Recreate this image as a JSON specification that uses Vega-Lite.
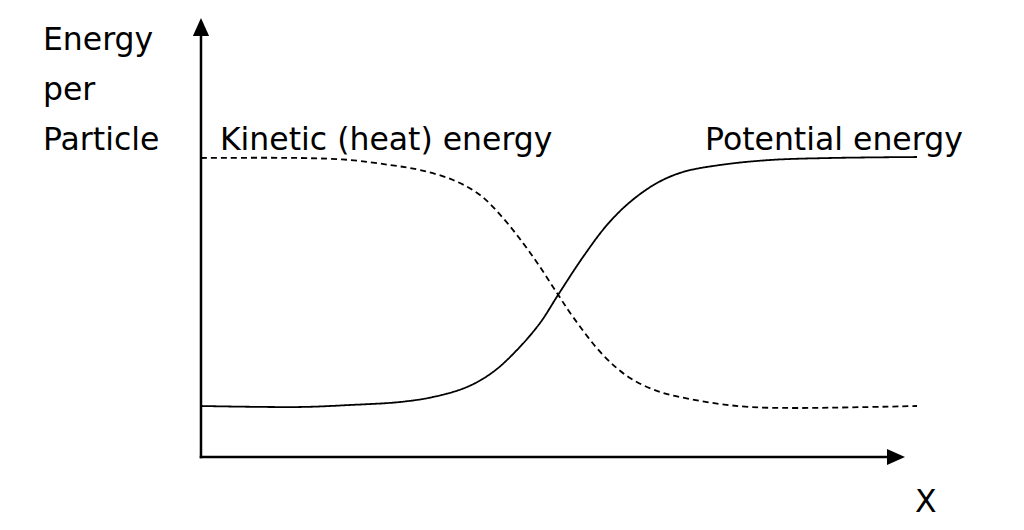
{
  "$schema": "https://vega.github.io/schema/vega-lite/v6.json",
  "width": 1024,
  "height": 530,
  "padding": 0,
  "autosize": {"type": "fit", "contains": "padding"},
  "background": "white",
  "config": {"view": {"stroke": null}},
  "datasets": {
    "curves": [
      {"series": "Potential", "x": 0, "y": 1.02},
      {"series": "Potential", "x": 1.383, "y": 1.0},
      {"series": "Potential", "x": 2.081, "y": 1.04},
      {"series": "Potential", "x": 2.779, "y": 1.10},
      {"series": "Potential", "x": 3.240, "y": 1.20},
      {"series": "Potential", "x": 3.715, "y": 1.40},
      {"series": "Potential", "x": 4.078, "y": 1.70},
      {"series": "Potential", "x": 4.413, "y": 2.14},
      {"series": "Potential", "x": 4.735, "y": 2.68},
      {"series": "Potential", "x": 4.986, "y": 3.24},
      {"series": "Potential", "x": 5.335, "y": 4.00},
      {"series": "Potential", "x": 5.670, "y": 4.64},
      {"series": "Potential", "x": 5.992, "y": 5.10},
      {"series": "Potential", "x": 6.369, "y": 5.48},
      {"series": "Potential", "x": 6.732, "y": 5.70},
      {"series": "Potential", "x": 7.249, "y": 5.84},
      {"series": "Potential", "x": 7.947, "y": 5.94},
      {"series": "Potential", "x": 8.785, "y": 5.98},
      {"series": "Potential", "x": 10.0, "y": 6.0},
      {"series": "Kinetic", "x": 0, "y": 5.98},
      {"series": "Kinetic", "x": 1.383, "y": 5.98},
      {"series": "Kinetic", "x": 2.081, "y": 5.94},
      {"series": "Kinetic", "x": 2.640, "y": 5.84},
      {"series": "Kinetic", "x": 3.059, "y": 5.74},
      {"series": "Kinetic", "x": 3.520, "y": 5.54},
      {"series": "Kinetic", "x": 3.897, "y": 5.24},
      {"series": "Kinetic", "x": 4.218, "y": 4.78},
      {"series": "Kinetic", "x": 4.497, "y": 4.28},
      {"series": "Kinetic", "x": 4.735, "y": 3.80},
      {"series": "Kinetic", "x": 4.972, "y": 3.28},
      {"series": "Kinetic", "x": 5.196, "y": 2.80},
      {"series": "Kinetic", "x": 5.615, "y": 2.04},
      {"series": "Kinetic", "x": 5.992, "y": 1.58},
      {"series": "Kinetic", "x": 6.411, "y": 1.30},
      {"series": "Kinetic", "x": 6.830, "y": 1.16},
      {"series": "Kinetic", "x": 7.249, "y": 1.06},
      {"series": "Kinetic", "x": 7.668, "y": 1.00},
      {"series": "Kinetic", "x": 8.324, "y": 0.98},
      {"series": "Kinetic", "x": 10.0, "y": 1.02}
    ],
    "axes": [
      {"x": 0, "y": 0, "x2": 0, "y2": 8.42},
      {"x": 0, "y": 0, "x2": 9.581, "y2": 0}
    ],
    "labels": [
      {"text": "Energy", "x": -2.207, "y": 8.14},
      {"text": "per", "x": -2.207, "y": 7.14},
      {"text": "Particle", "x": -2.207, "y": 6.14},
      {"text": "Kinetic (heat) energy", "x": 0.265, "y": 6.14},
      {"text": "Potential energy", "x": 7.039, "y": 6.14},
      {"text": "X", "x": 9.972, "y": -1.1}
    ]
  },
  "layer": [
    {
      "data": {"name": "axes"},
      "mark": {"type": "rule", "color": "black", "strokeWidth": 2.5, "strokeCap": "square"},
      "encoding": {
        "x": {"field": "x", "type": "quantitative", "axis": null, "scale": {"domain": [-2.807, 11.494], "nice": false, "zero": false}},
        "y": {"field": "y", "type": "quantitative", "axis": null, "scale": {"domain": [-1.46, 9.14], "nice": false, "zero": false}},
        "x2": {"field": "x2"},
        "y2": {"field": "y2"}
      }
    },
    {
      "data": {"values": [{"x": 0, "y": 8.42}]},
      "mark": {"type": "point", "shape": "M0,-1L0.45,0L-0.45,0Z", "size": 1296, "filled": true, "color": "black", "opacity": 1},
      "encoding": {
        "x": {"field": "x", "type": "quantitative"},
        "y": {"field": "y", "type": "quantitative"}
      }
    },
    {
      "data": {"values": [{"x": 9.581, "y": 0}]},
      "mark": {"type": "point", "shape": "M1,0L0,-0.45L0,0.45Z", "size": 1296, "filled": true, "color": "black", "opacity": 1},
      "encoding": {
        "x": {"field": "x", "type": "quantitative"},
        "y": {"field": "y", "type": "quantitative"}
      }
    },
    {
      "data": {"name": "curves"},
      "mark": {"type": "line", "color": "black", "strokeWidth": 1.8, "interpolate": "catmull-rom"},
      "encoding": {
        "x": {"field": "x", "type": "quantitative"},
        "y": {"field": "y", "type": "quantitative"},
        "detail": {"field": "series"},
        "strokeDash": {"field": "series", "type": "nominal", "legend": null, "scale": {"domain": ["Potential", "Kinetic"], "range": [[1, 0], [6, 4]]}}
      }
    },
    {
      "data": {"name": "labels"},
      "mark": {"type": "text", "align": "left", "baseline": "alphabetic", "font": "DejaVu Sans", "fontSize": 31.5, "color": "black"},
      "encoding": {
        "x": {"field": "x", "type": "quantitative"},
        "y": {"field": "y", "type": "quantitative"},
        "text": {"field": "text"}
      }
    }
  ]
}
